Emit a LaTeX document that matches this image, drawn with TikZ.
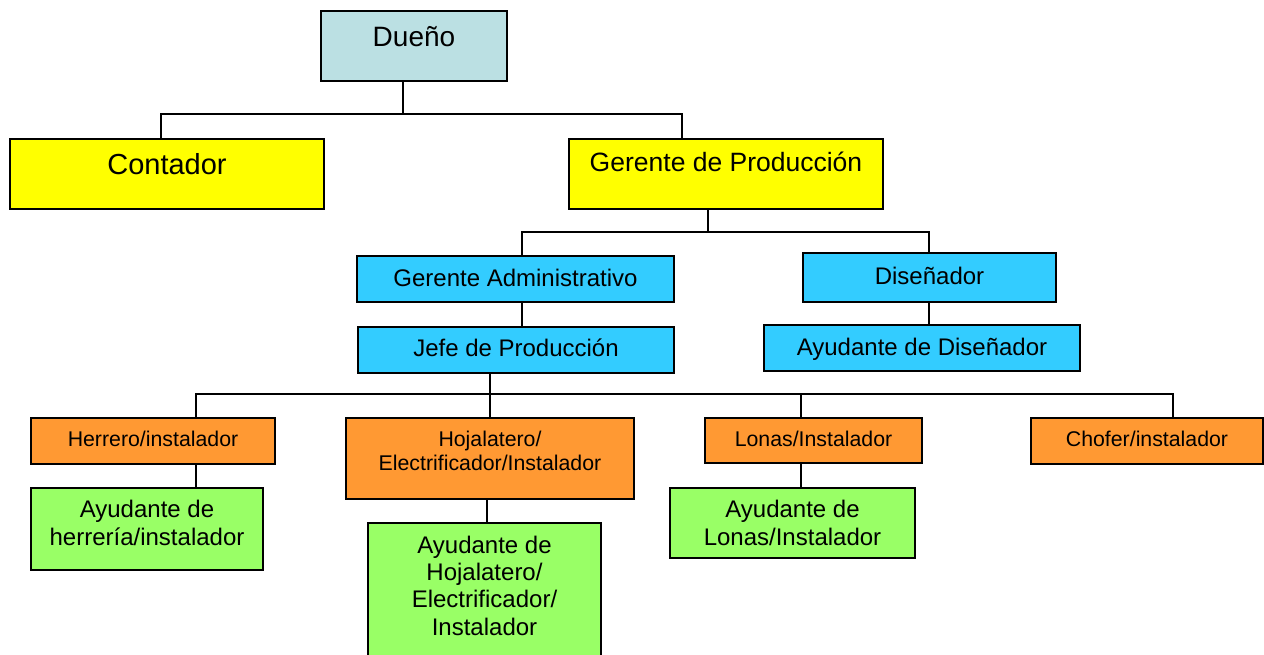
\documentclass[tikz,border=0pt]{standalone}
\usepackage{fontspec}
\setmainfont{Liberation Sans}
\definecolor{ownerfill}{HTML}{BBE0E3}
\definecolor{headfill}{HTML}{FFFF00}
\definecolor{officefill}{HTML}{33CCFF}
\definecolor{tradefill}{HTML}{FF9933}
\definecolor{helperfill}{HTML}{99FF66}
\begin{document}
\begin{tikzpicture}[
   x=1pt,y=-1pt,
   box/.style={draw,line width=2pt,inner sep=0pt,align=center},
   head/.style={box,fill=headfill},
   office/.style={box,fill=officefill,font=\fontsize{24}{27.3}\selectfont},
   trade/.style={box,fill=tradefill,font=\fontsize{21.3}{24.7}\selectfont},
   helper/.style={box,fill=helperfill,font=\fontsize{24}{27.3}\selectfont},
   link/.style={line width=2pt}]
\useasboundingbox (0,0) rectangle (1264,655);
\node[box,fill=ownerfill,font=\fontsize{28}{32}\selectfont,minimum width=186pt,text height=36pt,text depth=34pt] (dueno) at (414,46) {Dueño};
\node[head,font=\fontsize{29}{33}\selectfont,minimum width=314pt,text height=36pt,text depth=34pt] (contador) at (167,174) {Contador};
\node[head,font=\fontsize{26.5}{30}\selectfont,minimum width=314pt,text height=32.7pt,text depth=37.3pt] (gerprod) at (726,174) {Gerente de Producción};
\node[office,minimum width=317pt,text height=31pt,text depth=15pt] (geradm) at (515.5,279) {Gerente Administrativo};
\node[office,minimum width=253pt,text height=31pt,text depth=18pt] (disenador) at (929.5,277.5) {Diseñador};
\node[office,minimum width=316pt,text height=29.7pt,text depth=16.3pt] (jefe) at (516,350) {Jefe de Producción};
\node[office,minimum width=316pt,text height=30pt,text depth=16pt] (aydis) at (922,348) {Ayudante de Diseñador};
\node[trade,minimum width=244pt,text height=28pt,text depth=18pt] (herrero) at (153,441) {Herrero/instalador};
\node[trade,minimum width=288pt,text height=52.7pt,text depth=28.3pt] (hojalatero) at (490,458.5) {Hojalatero/\\Electrificador/Instalador};
\node[trade,minimum width=217pt,text height=28pt,text depth=17pt] (lonas) at (813.5,440.5) {Lonas/Instalador};
\node[trade,minimum width=232pt,text height=28pt,text depth=18pt] (chofer) at (1147,441) {Chofer/instalador};
\node[helper,minimum width=232pt,text height=57pt,text depth=25pt] (ayherr) at (147,529) {Ayudante de\\herrería/instalador};
\node[helper,minimum width=233pt,text height=112.2pt,text depth=24.8pt] (ayhoj) at (484.5,591.5) {Ayudante de\\Hojalatero/\\Electrificador/\\Instalador};
\node[helper,minimum width=245pt,text height=57pt,text depth=13pt] (aylonas) at (792.5,523) {Ayudante de\\Lonas/Instalador};
\coordinate (j0) at (403,114);
\coordinate (j1) at (161,114);
\coordinate (j2) at (682,114);
\coordinate (k0) at (708,232);
\coordinate (k1) at (522,232);
\coordinate (k2) at (929,232);
\coordinate (m0) at (490,394);
\coordinate (m1) at (196,394);
\coordinate (m2) at (801,394);
\coordinate (m3) at (1173,394);
\coordinate (m4) at (487,511);
\draw[link] (dueno.south -| j0) -- (j0);
\draw[link] (contador.north -| j1) -- (j1) -- (j2) -- (gerprod.north -| j2);
\draw[link] (gerprod.south -| k0) -- (k0);
\draw[link] (geradm.north -| k1) -- (k1) -- (k2) -- (disenador.north -| k2);
\draw[link] (geradm.south -| k1) -- (jefe.north -| k1);
\draw[link] (disenador.south -| k2) -- (aydis.north -| k2);
\draw[link] (jefe.south -| m0) -- (hojalatero.north -| m0);
\draw[link] (herrero.north -| m1) -- (m1) -- (m3) -- (chofer.north -| m3);
\draw[link] (lonas.north -| m2) -- (m2);
\draw[link] (herrero.south -| m1) -- (ayherr.north -| m1);
\draw[link] (hojalatero.south -| m4) -- (ayhoj.north -| m4);
\draw[link] (lonas.south -| m2) -- (aylonas.north -| m2);
\end{tikzpicture}
\end{document}
